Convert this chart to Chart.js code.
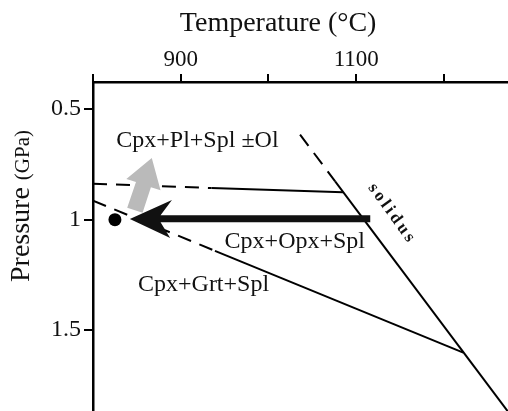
<!DOCTYPE html>
<html>
<head>
<meta charset="utf-8">
<script src="https://cdn.jsdelivr.net/npm/chart.js@4"></script>
<style>
html, body { margin: 0; padding: 0; background: #fff; }
</style>
</head>
<body>
<canvas id="chart" width="508" height="411"></canvas>
<script>
// axes
const xTicks = [800, 900, 1000, 1100, 1200];
const xLabeled = [900, 1100];
const yTicks = [0.5, 1, 1.5];

// phase boundaries (temperature, pressure); first segment of each is dashed
const solidusT = [1036, 1076, 1273];
const solidusP = [0.615, 0.827, 1.869];
const plagT = [800, 935, 1085];
const plagP = [0.837, 0.857, 0.876];
const garnetT = [800, 939, 1222];
const garnetP = [0.914, 1.141, 1.602];

// sample and its paths
const sampleT = [825];
const sampleP = [1.0];
const pathT = [842, 890, 877, 1116, 1116, 877, 888];
const pathP = [0.997, 0.911, 0.980, 0.980, 1.012, 1.012, 1.083];
const altPathT = [867, 877, 866, 856.5, 839, 849, 838];
const altPathP = [0.721, 0.867, 0.853, 0.969, 0.946, 0.830, 0.816];

// field labels
const fieldNames = ['Cpx+Pl+Spl \u00b1Ol', 'Cpx+Opx+Spl', 'Cpx+Grt+Spl'];
const fieldT = [919, 1030, 926];
const fieldP = [0.644, 1.101, 1.296];

const pts = (T, P) => T.map((t, i) => ({x: t, y: P[i]}));
const serif = '"Liberation Serif", "Times New Roman", serif';

const boundary = (T, P) => ({
    data: pts(T, P),
    showLine: true,
    borderColor: '#000',
    borderWidth: 2,
    pointRadius: 0,
    segment: {
        borderDash: ctx => ctx.p0DataIndex === 0 ? [14, 9] : undefined
    }
});

// no extra room for tick labels, the plot runs to the canvas edges
const noPad = s => {
    s.paddingTop = 0;
    s.paddingBottom = 0;
    s.paddingLeft = 0;
    s.paddingRight = 0;
};

const extras = {
    id: 'extras',
    afterDatasetsDraw(chart) {
        const {ctx, scales: {x, y}} = chart;
        const poly = (T, P, color) => {
            ctx.beginPath();
            T.forEach((t, i) => {
                const px = x.getPixelForValue(t), py = y.getPixelForValue(P[i]);
                if (i) ctx.lineTo(px, py); else ctx.moveTo(px, py);
            });
            ctx.closePath();
            ctx.fillStyle = color;
            ctx.fill();
        };
        ctx.save();
        poly(altPathT, altPathP, '#bababa');
        poly(pathT, pathP, '#111');

        ctx.fillStyle = '#111';
        ctx.textAlign = 'center';
        ctx.textBaseline = 'middle';
        ctx.font = '24px ' + serif;
        fieldNames.forEach((s, i) => {
            ctx.fillText(s, x.getPixelForValue(fieldT[i]), y.getPixelForValue(fieldP[i]));
        });

        // solidus label, rotated along the line
        ctx.save();
        ctx.translate(x.getPixelForValue(1141), y.getPixelForValue(0.974));
        ctx.rotate(54 * Math.PI / 180);
        ctx.font = 'bold 17px ' + serif;
        ctx.letterSpacing = '3px';
        ctx.fillText('solidus', 0, 0);
        ctx.restore();

        // axis titles
        ctx.font = '28px ' + serif;
        ctx.fillText('Temperature (\u00b0C)', x.getPixelForValue(1011), 24);

        ctx.save();
        ctx.translate(22, 206);
        ctx.rotate(-Math.PI / 2);
        ctx.textAlign = 'left';
        ctx.font = '28px ' + serif;
        const w1 = ctx.measureText('Pressure ').width;
        ctx.font = '21px ' + serif;
        const w2 = ctx.measureText('(GPa)').width;
        ctx.font = '28px ' + serif;
        ctx.fillText('Pressure ', -(w1 + w2) / 2, 0);
        ctx.font = '21px ' + serif;
        ctx.fillText('(GPa)', -(w1 + w2) / 2 + w1, 1);
        ctx.restore();

        ctx.restore();
    }
};

new Chart(document.getElementById('chart'), {
    type: 'scatter',
    data: {
        datasets: [
            boundary(solidusT, solidusP),
            boundary(plagT, plagP),
            boundary(garnetT, garnetP),
            {
                data: pts(sampleT, sampleP),
                pointRadius: 6.5,
                pointBackgroundColor: '#000',
                pointBorderWidth: 0
            }
        ]
    },
    options: {
        responsive: false,
        animation: false,
        layout: { padding: 0, autoPadding: false },
        plugins: {
            legend: { display: false },
            tooltip: { enabled: false }
        },
        scales: {
            x: {
                type: 'linear',
                position: 'top',
                min: 800,
                max: 1273,
                afterBuildTicks: s => { s.ticks = xTicks.map(v => ({value: v})); },
                afterFit: s => { s.height = 82; noPad(s); },
                ticks: {
                    autoSkip: false,
                    maxRotation: 0,
                    padding: 0,
                    color: '#111',
                    font: { family: serif, size: 23 },
                    callback: v => xLabeled.includes(v) ? String(v) : ''
                },
                grid: {
                    display: true,
                    drawOnChartArea: false,
                    drawTicks: true,
                    tickLength: 8,
                    color: '#000',
                    lineWidth: 2
                },
                border: { display: true, color: '#000', width: 2.5 }
            },
            y: {
                type: 'linear',
                reverse: true,
                min: 0.377,
                max: 1.866,
                afterBuildTicks: s => { s.ticks = yTicks.map(v => ({value: v})); },
                afterFit: s => { s.width = 93; noPad(s); },
                ticks: {
                    autoSkip: false,
                    padding: 3,
                    color: '#111',
                    font: { family: serif, size: 24 },
                    callback: v => String(v)
                },
                grid: {
                    display: true,
                    drawOnChartArea: false,
                    drawTicks: true,
                    tickLength: 9,
                    color: '#000',
                    lineWidth: 2
                },
                border: { display: true, color: '#000', width: 2.5 }
            }
        }
    },
    plugins: [extras]
});
</script>
</body>
</html>
